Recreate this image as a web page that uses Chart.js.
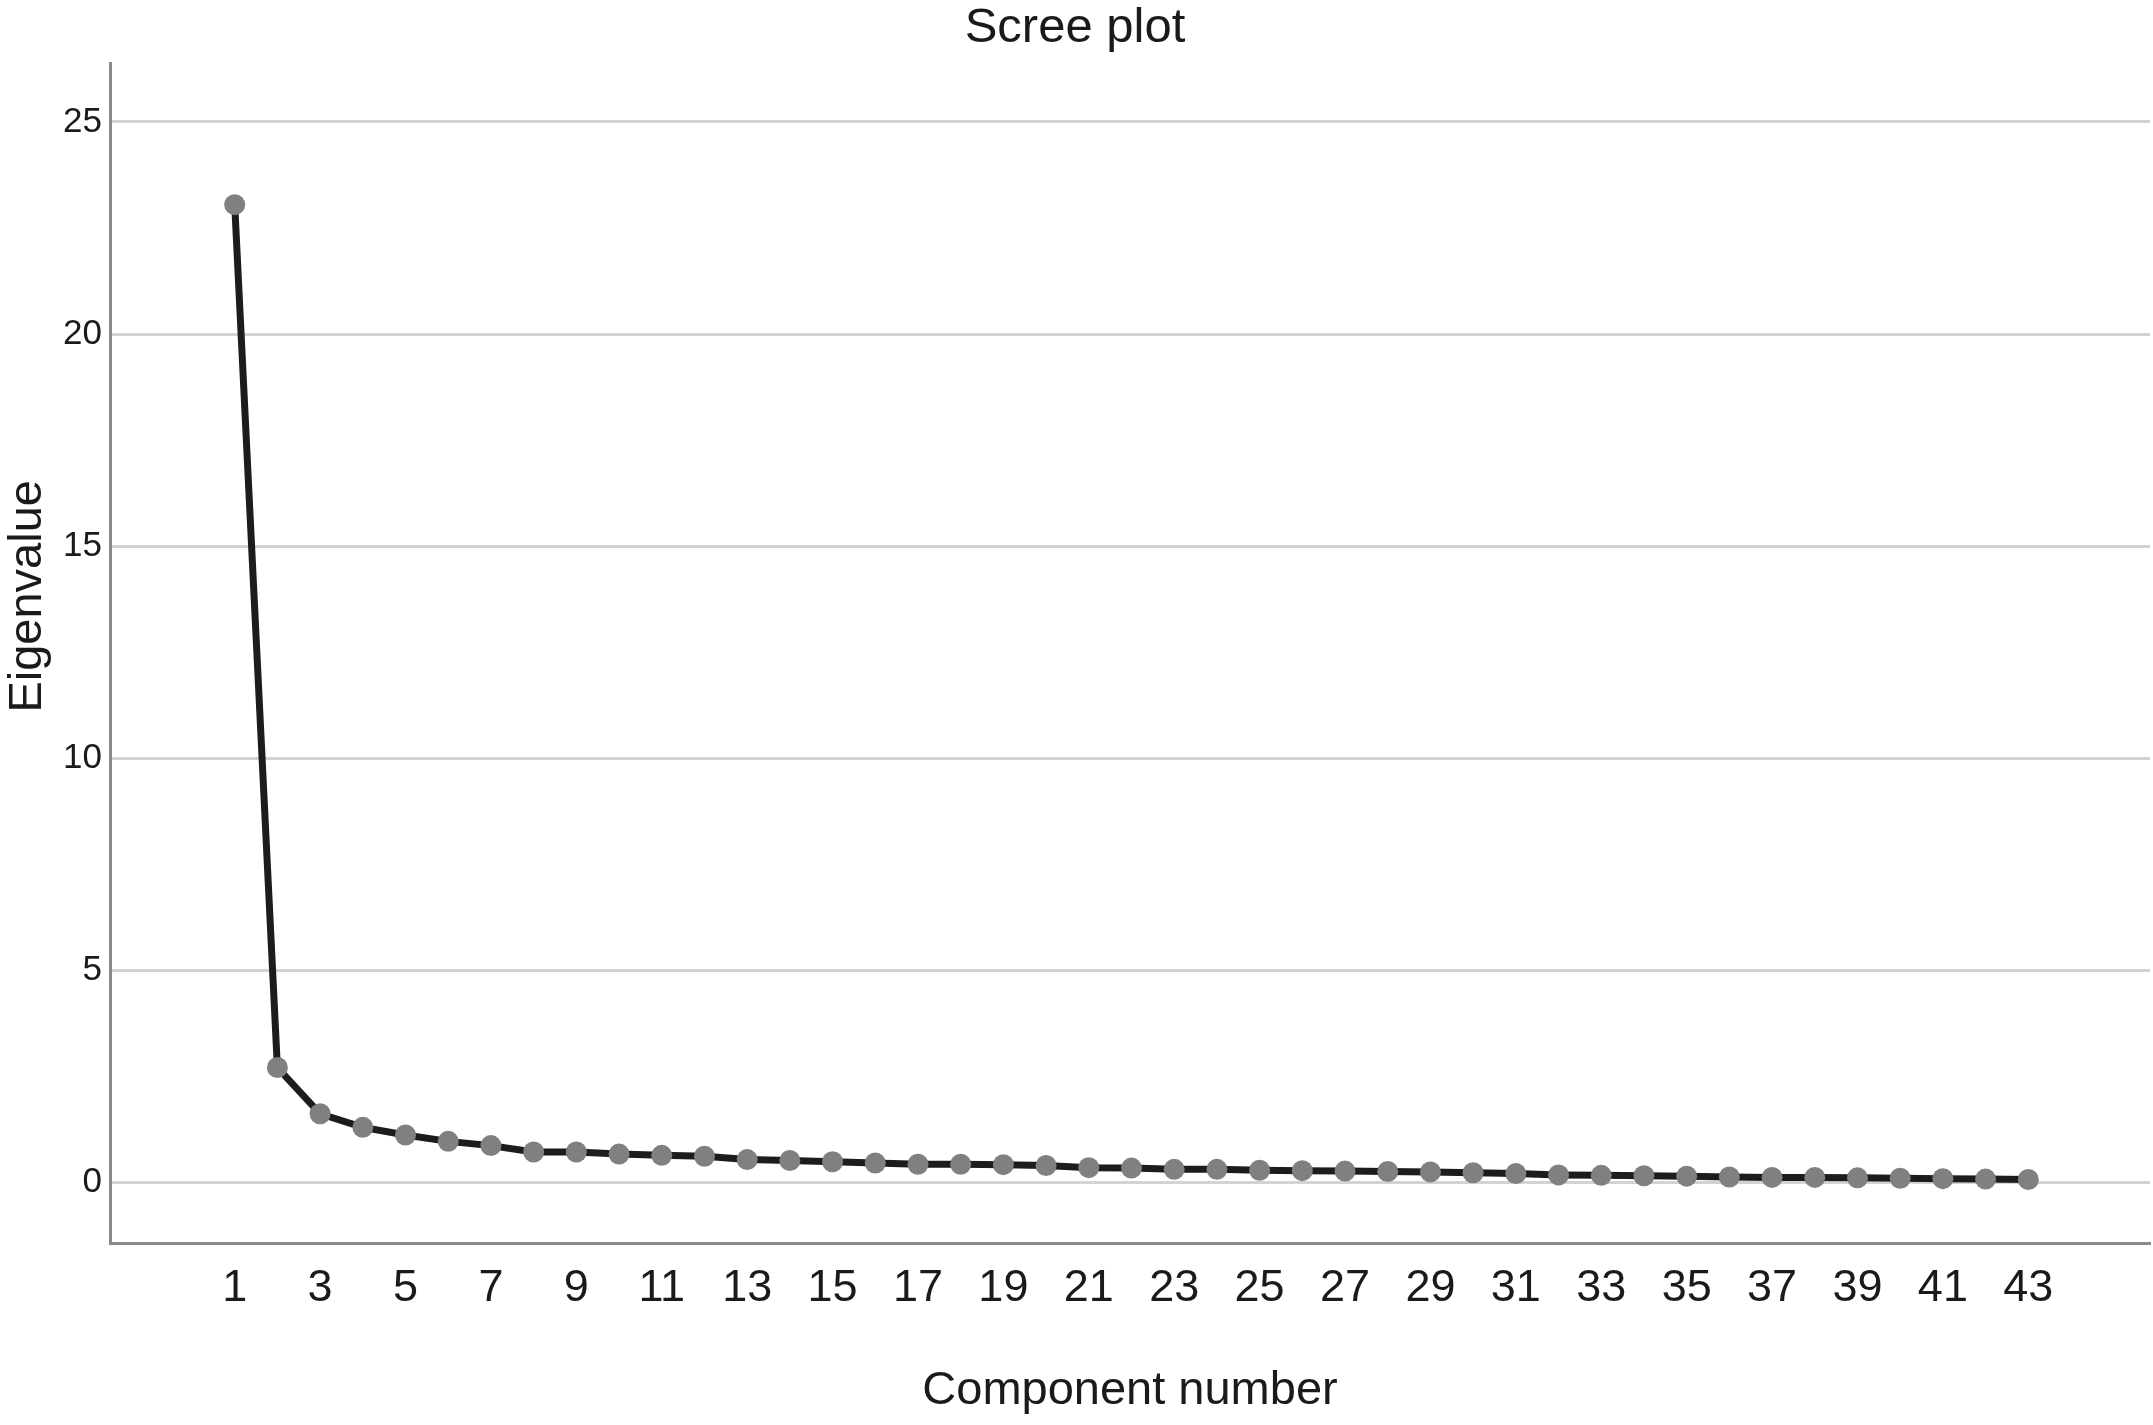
<!DOCTYPE html>
<html>
<head>
<meta charset="utf-8">
<title>Scree plot</title>
<script src="https://cdn.jsdelivr.net/npm/chart.js@4"></script>
<style>
  html, body { margin: 0; padding: 0; background: #fff; }
  #wrap { width: 2153px; height: 1425px; position: relative; }
</style>
</head>
<body>
<div id="wrap"><canvas id="scree"></canvas></div>
<script>
/* ── Data ── */
const components = [1, 2, 3, 4, 5, 6, 7, 8, 9, 10, 11, 12, 13, 14, 15, 16, 17, 18, 19, 20, 21,
  22, 23, 24, 25, 26, 27, 28, 29, 30, 31, 32, 33, 34, 35, 36, 37, 38, 39, 40, 41, 42, 43];
const eigenvalues = [23.05, 2.71, 1.62, 1.30, 1.12, 0.97, 0.87, 0.72, 0.72, 0.67, 0.64,
  0.62, 0.54, 0.52, 0.49, 0.46, 0.43, 0.43, 0.42, 0.40, 0.35, 0.34, 0.31, 0.31, 0.29,
  0.28, 0.27, 0.26, 0.25, 0.23, 0.21, 0.18, 0.17, 0.16, 0.15, 0.13, 0.12, 0.12, 0.11,
  0.10, 0.09, 0.08, 0.07];
const xTickLabels = [1, 3, 5, 7, 9, 11, 13, 15, 17, 19, 21, 23, 25, 27, 29, 31, 33, 35, 37, 39, 41, 43];
const yTickLabels = [0, 5, 10, 15, 20, 25];

const FONT = "'Liberation Sans', Arial, Helvetica, sans-serif";
const INK = '#1a1a1a';
const AXIS = '#8a8a8a';
const GRID = '#d0d3d7';

/* ── Y axis title: SPSS puts it a bit above the middle of the axis ── */
const yTitlePlugin = {
  id: 'yTitle',
  afterDraw(chart) {
    const { ctx, chartArea } = chart;
    ctx.save();
    ctx.translate(28, (chartArea.top + chartArea.bottom) / 2 - 57);
    ctx.rotate(-Math.PI / 2);
    ctx.font = `47px ${FONT}`;
    ctx.fillStyle = INK;
    ctx.textAlign = 'center';
    ctx.textBaseline = 'middle';
    ctx.fillText('Eigenvalue', 0, 0);
    ctx.restore();
  },
};

new Chart(document.getElementById('scree'), {
  type: 'line',
  data: {
    datasets: [{
      data: components.map((c, i) => ({ x: c, y: eigenvalues[i] })),
      borderColor: '#1c1c1c',
      borderWidth: 7,
      tension: 0,
      pointRadius: 10.5,
      pointBackgroundColor: '#808080',
      pointBorderWidth: 0,
    }],
  },
  plugins: [yTitlePlugin],
  options: {
    responsive: true, maintainAspectRatio: false,
    animation: false,
    layout: { autoPadding: false, padding: { top: 0, right: 3, bottom: 0, left: 0 } },
    plugins: {
      legend: { display: false },
      tooltip: { enabled: false },
      title: {
        display: true, text: 'Scree plot', color: INK,
        font: { family: FONT, size: 49, weight: 'normal', lineHeight: 1 },
        padding: { top: 4, bottom: 10 },
      },
    },
    scales: {
      x: {
        type: 'linear', min: -1.92, max: 45.85,
        afterBuildTicks: s => { s.ticks = xTickLabels.map(v => ({ value: v })); },
        grid: { display: false, drawTicks: false },
        border: { display: true, color: AXIS, width: 3 },
        ticks: { color: INK, font: { family: FONT, size: 45 }, padding: 18, autoSkip: false, maxRotation: 0 },
        title: {
          display: true, text: 'Component number', color: INK,
          font: { family: FONT, size: 47 },
          padding: { top: 29, bottom: 6 },
        },
      },
      y: {
        min: -1.44, max: 26.39,
        afterBuildTicks: s => { s.ticks = yTickLabels.map(v => ({ value: v })); },
        afterFit: s => { s.width = 110; },
        grid: { color: GRID, lineWidth: 3, drawTicks: false },
        border: { display: true, color: AXIS, width: 3 },
        ticks: { color: INK, font: { family: FONT, size: 35 }, padding: 8 },
        title: { display: false },
      },
    },
  },
});
</script>
</body>
</html>
